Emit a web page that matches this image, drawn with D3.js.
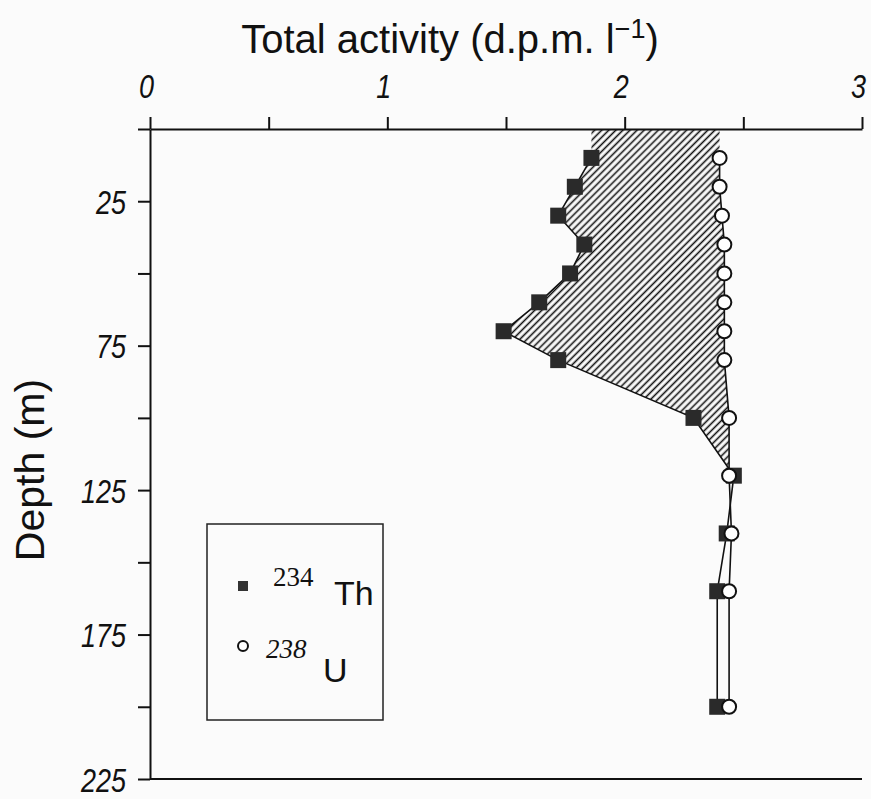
<!DOCTYPE html>
<html>
<head>
<meta charset="utf-8">
<script src="https://cdn.jsdelivr.net/npm/d3@7"></script>
<style>
  body { margin: 0; background: #fbfbfb; }
  svg { display: block; }
</style>
</head>
<body>
<svg id="chart"></svg>
<script>
// depth (m) of each sample
var depths = [10, 20, 30, 40, 50, 60, 70, 80, 100, 120, 140, 160, 200];
// 234Th activity (d.p.m. l-1)
var thValues = [1.86, 1.79, 1.72, 1.83, 1.77, 1.64, 1.49, 1.72, 2.29, 2.46, 2.43, 2.39, 2.39];
// 238U activity (d.p.m. l-1)
var uValues = [2.40, 2.40, 2.41, 2.42, 2.42, 2.42, 2.42, 2.42, 2.44, 2.44, 2.45, 2.44, 2.44];
var xTicks = [0, 0.5, 1, 1.5, 2, 2.5, 3];
var xTickLabels = ['0', '', '1', '', '2', '', '3'];
var yTicks = [0, 25, 50, 75, 100, 125, 150, 175, 200, 225];
var yTickLabels = ['', '25', '', '75', '', '125', '', '175', '', '225'];

var W = 871, H = 799;
var svg = d3.select('#chart').attr('width', W).attr('height', H);

var x = d3.scaleLinear().domain([0, 3]).range([150, 862]);
var y = d3.scaleLinear().domain([0, 225]).range([129, 779]);

var sans = '"Liberation Sans", Arial, sans-serif';

// hatch
var defs = svg.append('defs');
defs.append('pattern').attr('id', 'hatch').attr('patternUnits', 'userSpaceOnUse')
    .attr('width', 5).attr('height', 5).attr('patternTransform', 'rotate(45)')
    .append('line').attr('x1', 2.5).attr('y1', 0).attr('x2', 2.5).attr('y2', 5)
    .attr('stroke', '#111').attr('stroke-width', 1.6);

var rows = depths.map(function(d, i) { return { depth: d, th: thValues[i], u: uValues[i] }; });
// surface extension + rows down to where the two profiles meet
var areaRows = [{ depth: 0, th: thValues[0], u: uValues[0] }].concat(rows.filter(function(r) { return r.depth <= 120; }));

var area = d3.area()
    .y(function(d) { return y(d.depth); })
    .x0(function(d) { return x(d.th); })
    .x1(function(d) { return x(d.u); });

svg.append('path').datum(areaRows).attr('d', area).attr('fill', 'url(#hatch)').attr('stroke', 'none');

// axes
var topAxis = d3.axisTop(x).tickValues(xTicks).tickSize(12).tickSizeOuter(0).tickPadding(19)
    .tickFormat(function(d, i) { return xTickLabels[i]; });
var gTop = svg.append('g').attr('transform', 'translate(0,' + y(0) + ')').call(topAxis);

var leftAxis = d3.axisLeft(y).tickValues(yTicks).tickSize(12).tickSizeOuter(0).tickPadding(12)
    .tickFormat(function(d, i) { return yTickLabels[i]; });
var gLeft = svg.append('g').attr('transform', 'translate(' + x(0) + ',0)').call(leftAxis);

[gTop, gLeft].forEach(function(g) {
    g.select('.domain').attr('stroke', '#111').attr('stroke-width', 2);
    g.selectAll('.tick line').attr('stroke', '#111').attr('stroke-width', 2);
    g.selectAll('.tick text').attr('fill', '#111').attr('font-family', sans)
        .attr('font-style', 'italic').attr('font-size', 34);
    // condensed look of the original lettering
    g.selectAll('.tick text').filter(function() { return this.textContent !== ''; })
        .attr('lengthAdjust', 'spacingAndGlyphs')
        .attr('textLength', function() { return this.textContent.length * 15; });
});
gTop.selectAll('.tick text').attr('dx', -4);
gLeft.selectAll('.tick text').attr('dy', '0.36em');

svg.append('line').attr('x1', x(0)).attr('x2', x(3)).attr('y1', y(225)).attr('y2', y(225))
    .attr('stroke', '#111').attr('stroke-width', 2);

// axis titles
var title = svg.append('text').attr('x', 450).attr('y', 53).attr('text-anchor', 'middle')
    .attr('font-family', sans).attr('font-size', 40).attr('fill', '#111');
title.append('tspan').text('Total activity (d.p.m. l');
title.append('tspan').attr('font-size', 27).attr('dy', -15).text('\u22121');
title.append('tspan').attr('dy', 15).text(')');

svg.append('text').attr('transform', 'translate(44,470) rotate(-90)').attr('text-anchor', 'middle')
    .attr('font-family', sans).attr('font-size', 41).attr('fill', '#111').text('Depth (m)');

// profiles
var thLine = d3.line().x(function(d) { return x(d.th); }).y(function(d) { return y(d.depth); });
var uLine = d3.line().x(function(d) { return x(d.u); }).y(function(d) { return y(d.depth); });
svg.append('path').datum(rows).attr('d', thLine).attr('fill', 'none').attr('stroke', '#111').attr('stroke-width', 1.6);
svg.append('path').datum(rows).attr('d', uLine).attr('fill', 'none').attr('stroke', '#111').attr('stroke-width', 1.6);

svg.selectAll('rect.th').data(rows).enter().append('rect').attr('class', 'th')
    .attr('x', function(d) { return x(d.th) - 8; }).attr('y', function(d) { return y(d.depth) - 8; })
    .attr('width', 16).attr('height', 16).attr('fill', '#2a2a2a');

svg.selectAll('circle.u').data(rows).enter().append('circle').attr('class', 'u')
    .attr('cx', function(d) { return x(d.u); }).attr('cy', function(d) { return y(d.depth); })
    .attr('r', 7).attr('fill', '#fff').attr('stroke', '#111').attr('stroke-width', 2);

// legend
var lg = svg.append('g');
lg.append('rect').attr('x', 207).attr('y', 524).attr('width', 176).attr('height', 196)
    .attr('fill', 'none').attr('stroke', '#222').attr('stroke-width', 1.5);
lg.append('rect').attr('x', 238).attr('y', 581).attr('width', 10).attr('height', 10).attr('fill', '#333');
lg.append('text').attr('x', 273).attr('y', 586).attr('font-family', '"Liberation Serif", serif').attr('font-size', 27)
    .attr('fill', '#111').text('234');
lg.append('text').attr('x', 334).attr('y', 605).attr('font-family', sans).attr('font-size', 34)
    .attr('fill', '#111').text('Th');
lg.append('circle').attr('cx', 243).attr('cy', 646).attr('r', 5).attr('fill', '#fff')
    .attr('stroke', '#111').attr('stroke-width', 2);
lg.append('text').attr('x', 266).attr('y', 658).attr('font-family', '"Liberation Serif", serif').attr('font-style', 'italic')
    .attr('font-size', 27).attr('fill', '#111').text('238');
lg.append('text').attr('x', 323).attr('y', 682).attr('font-family', sans).attr('font-size', 34)
    .attr('fill', '#111').text('U');
</script>
</body>
</html>
